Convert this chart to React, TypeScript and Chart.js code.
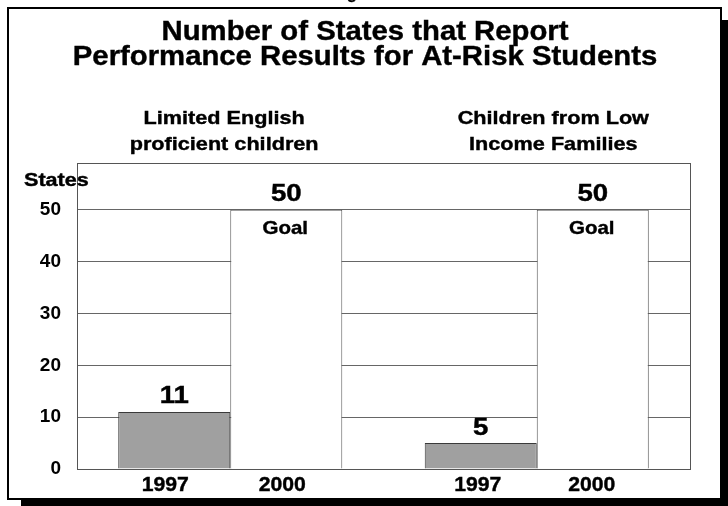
import React, { useEffect, useRef } from "react";
import { Chart, registerables } from "chart.js";

Chart.register(...registerables);

// ---- Data ----
const groups = ["Limited English proficient children", "Children from Low Income Families"];
const groupHeaderLines = [
  ["Limited English", "proficient children"],
  ["Children from Low", "Income Families"],
];
const years = ["1997", "2000"];
const values1997 = [11, 5];
const values2000 = [50, 50];
const yTicks = [0, 10, 20, 30, 40, 50];
const goalLabel = "Goal";
const yTitle = "States";
const titleLines = ["Number of States that Report", "Performance Results for At-Risk Students"];
const figureLabel = "Figure 1";

const FONT = "'Liberation Sans', Arial, Helvetica, sans-serif";

function drawText(
  ctx: CanvasRenderingContext2D,
  text: string,
  x: number,
  y: number,
  size: number,
  sx: number,
  align: CanvasTextAlign = "center"
) {
  ctx.save();
  ctx.font = `bold ${size}px ${FONT}`;
  ctx.fillStyle = "#000";
  ctx.strokeStyle = "#000";
  ctx.lineWidth = 0.4;
  ctx.textAlign = align;
  ctx.textBaseline = "alphabetic";
  ctx.translate(x, y);
  ctx.scale(sx, 1);
  ctx.fillText(text, 0, 0);
  ctx.strokeText(text, 0, 0);
  ctx.restore();
}

const decorPlugin = {
  id: "decor",
  beforeDraw(chart: any) {
    const ctx: CanvasRenderingContext2D = chart.ctx;
    const W = chart.width;
    const H = chart.height;
    ctx.save();
    ctx.fillStyle = "#fff";
    ctx.fillRect(0, 0, W, H);
    // shadow
    ctx.fillStyle = "#000";
    ctx.fillRect(21, 20, W - 21, H - 20);
    // frame
    ctx.fillStyle = "#fff";
    ctx.fillRect(7, 7, 715, 493);
    ctx.strokeStyle = "#000";
    ctx.lineWidth = 2;
    ctx.strokeRect(8, 8, 713, 491);
    ctx.restore();
    drawText(ctx, figureLabel, W / 2, -1, 16, 1.0);
  },
  beforeDatasetsDraw(chart: any) {
    const ctx: CanvasRenderingContext2D = chart.ctx;
    const a = chart.chartArea;
    ctx.save();
    ctx.strokeStyle = "#555";
    ctx.lineWidth = 1;
    ctx.strokeRect(Math.round(a.left) + 0.5, Math.round(a.top) + 0.5, Math.round(a.right - a.left), Math.round(a.bottom - a.top));
    ctx.restore();
  },
  afterDatasetsDraw(chart: any) {
    const ctx: CanvasRenderingContext2D = chart.ctx;
    const a = chart.chartArea;
    const W = chart.width;
    const yearShift = [[-9, -4], [-3, -1]];

    chart.data.datasets.forEach((ds: any, di: number) => {
      const meta = chart.getDatasetMeta(di);
      meta.data.forEach((el: any, i: number) => {
        const v = ds.data[i];
        drawText(ctx, String(v), el.x, el.y - 8.5, 23, 1.2);
        if (di === 1) drawText(ctx, goalLabel, el.x - 1, el.y + 24, 19, 1.08);
        drawText(ctx, years[di], el.x + yearShift[i][di], a.bottom + 21.5, 20, 1.06);
      });
    });

    const headerFrac = [0.24, 0.777];
    groupHeaderLines.forEach((lines, gi) => {
      const cx = a.left + (a.right - a.left) * headerFrac[gi];
      drawText(ctx, lines[0], cx, a.top - 39, 19, 1.14);
      drawText(ctx, lines[1], cx, a.top - 13, 19, 1.14);
    });

    drawText(ctx, titleLines[0], W / 2 + 1, 40, 27, 1.085);
    drawText(ctx, titleLines[1], W / 2 + 1, 65, 27, 1.085);

    drawText(ctx, yTitle, 24, a.top + 23, 18, 1.2, "left");
  },
};

export default function App() {
  const ref = useRef<HTMLCanvasElement | null>(null);
  useEffect(() => {
    if (!ref.current) return;
    Chart.defaults.font.family = FONT;
    const chart = new Chart(ref.current, {
      type: "bar",
      data: {
        labels: groups,
        datasets: [
          {
            label: years[0],
            data: values1997,
            backgroundColor: "#a0a0a0",
            borderColor: "#3a3a3a",
            borderWidth: 1,
            categoryPercentage: 0.731,
            barPercentage: 1,
          },
          {
            label: years[1],
            data: values2000,
            backgroundColor: "#ffffff",
            borderColor: "#5a5a5a",
            borderWidth: 1,
            categoryPercentage: 0.731,
            barPercentage: 1,
          },
        ],
      },
      options: {
        animation: false,
        responsive: false,
        devicePixelRatio: 1,
        layout: { padding: { top: 163, bottom: 37, left: 0, right: 38 } },
        plugins: {
          legend: { display: false },
          tooltip: { enabled: false },
          title: { display: false },
        },
        scales: {
          x: { display: false },
          y: {
            min: 0,
            max: 59,
            afterBuildTicks: (s: any) => {
              s.ticks = yTicks.map((v) => ({ value: v }));
            },
            afterFit: (s: any) => {
              s.width = 77;
            },
            ticks: {
              padding: 16,
              color: "#000",
              font: { family: FONT, weight: "bold", size: 19 },
            },
            grid: { drawTicks: false, color: "#666", lineWidth: 1 },
            border: { display: true, color: "#555" },
          },
        },
      },
      plugins: [decorPlugin],
    } as any);
    return () => chart.destroy();
  }, []);
  return (
    <div style={{ position: "absolute", left: 0, top: 0, width: 728, height: 506 }}>
      <canvas ref={ref} width={728} height={506} style={{ display: "block" }} />
    </div>
  );
}
